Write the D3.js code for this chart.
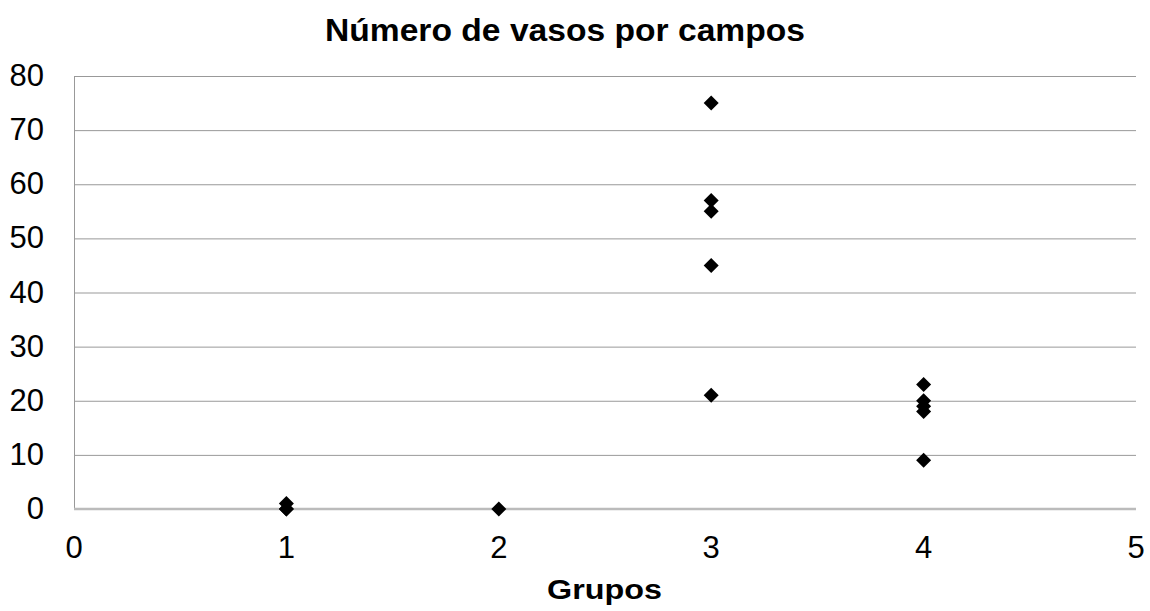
<!DOCTYPE html>
<html><head><meta charset="utf-8">
<script src="https://cdn.jsdelivr.net/npm/d3@7"></script>
<style>body{margin:0;background:#fff}svg{display:block}</style>
</head><body>
<svg id="c" width="1150" height="611"></svg>
<script>
const title = "Número de vasos por campos";
const xLabel = "Grupos";
const groups = [1,1,1,2,3,3,3,3,3,4,4,4,4,4];
const values = [0,0,1,0,75,57,55,45,21,23,20,19,18,9];
const xTicks = [0,1,2,3,4,5];
const yTicks = [0,10,20,30,40,50,60,70,80];

const svg = d3.select("#c");
const m = {l:74, r:1136, t:76, b:509};
const x = d3.scaleLinear().domain([0,5]).range([m.l,m.r]);
const y = d3.scaleLinear().domain([0,80]).range([m.b,m.t]);
const font = "'Liberation Sans', Arial, sans-serif";

// gridlines
svg.append("g").selectAll("line").data(yTicks.filter(d=>d>0)).join("line")
  .attr("x1",m.l).attr("x2",m.r).attr("y1",d=>y(d)+0.5).attr("y2",d=>y(d)+0.5)
  .attr("stroke","#999").attr("stroke-width",1);
// left axis
svg.append("line").attr("x1",m.l+0.5).attr("x2",m.l+0.5).attr("y1",m.t).attr("y2",m.b)
  .attr("stroke","#999").attr("stroke-width",1);
// bottom axis
svg.append("line").attr("x1",m.l).attr("x2",m.r).attr("y1",m.b).attr("y2",m.b)
  .attr("stroke","#bbb").attr("stroke-width",2.5);

// y tick labels
svg.append("g").selectAll("text").data(yTicks).join("text")
  .attr("x",44).attr("y",d=>y(d)+10).attr("text-anchor","end")
  .attr("font-family",font).attr("font-size",31).attr("fill","#000").text(d=>d);
// x tick labels
svg.append("g").selectAll("text").data(xTicks).join("text")
  .attr("x",d=>x(d)).attr("y",558).attr("text-anchor","middle")
  .attr("font-family",font).attr("font-size",31).attr("fill","#000").text(d=>d);

// title
svg.append("text").attr("x",565).attr("y",41).attr("text-anchor","middle")
  .attr("font-family",font).attr("font-weight","bold").attr("font-size",31)
  .attr("textLength",480).attr("lengthAdjust","spacingAndGlyphs").text(title);
svg.append("text").attr("x",604.5).attr("y",599).attr("text-anchor","middle")
  .attr("font-family",font).attr("font-weight","bold").attr("font-size",27)
  .attr("textLength",115).attr("lengthAdjust","spacingAndGlyphs").text(xLabel);

// points
const pts = groups.map((g,i)=>({g, v:values[i]}));
svg.append("g").selectAll("path").data(pts).join("path")
  .attr("transform",d=>`translate(${x(d.g)},${y(d.v)})`)
  .attr("d","M0,-7.5L7.5,0L0,7.5L-7.5,0Z").attr("fill","#000");
</script>
</body></html>
